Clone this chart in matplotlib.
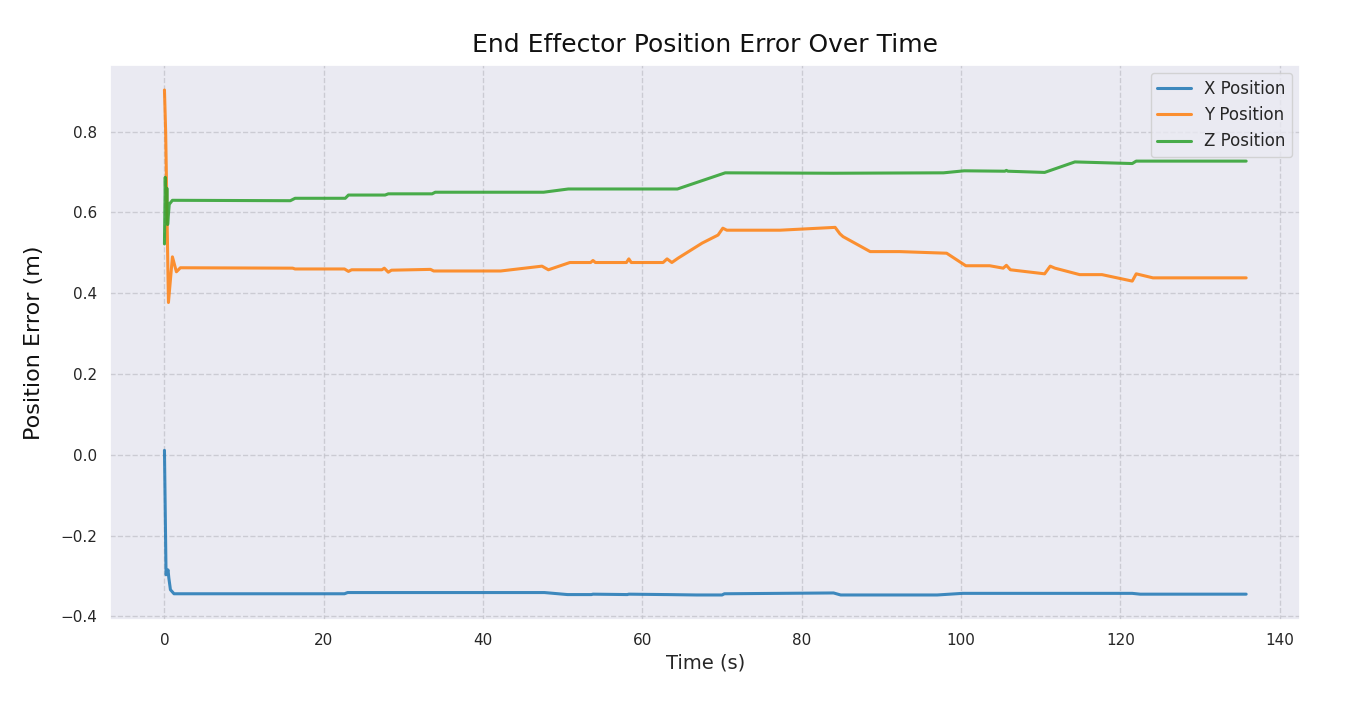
import matplotlib
matplotlib.use('Agg')
import matplotlib.pyplot as plt
import seaborn as sns

# Data
t_x = [0, 0.2, 0.45, 0.55, 0.75, 1.2, 22.6, 23.0, 47.7, 50.6, 53.6, 53.8, 58.1, 58.3,
       62.8, 63.0, 66.8, 70.0, 70.3, 84.0, 84.9, 97.0, 100.2, 121.5, 122.5, 135.8]
x_err = [0.011, -0.297, -0.285, -0.305, -0.334, -0.344, -0.344, -0.341, -0.341, -0.346,
         -0.346, -0.345, -0.346, -0.345, -0.346, -0.346, -0.347, -0.347, -0.344, -0.342,
         -0.347, -0.347, -0.343, -0.343, -0.345, -0.345]

t_y = [0, 0.15, 0.5, 1.0, 1.5, 2.0, 16.1, 16.4, 22.6, 23.1, 23.5, 27.3, 27.6, 28.1, 28.5,
       33.4, 33.8, 42.2, 47.4, 48.2, 50.9, 53.5, 53.8, 54.1, 58.0, 58.3, 58.6, 62.6, 63.1,
       63.7, 64.5, 67.5, 69.5, 70.1, 70.6, 77.3, 84.2, 84.8, 85.2, 88.6, 92.3, 98.2, 100.6,
       103.6, 105.3, 105.7, 106.2, 110.5, 111.2, 111.8, 114.9, 117.7, 121.5, 122.0, 124.1,
       135.8]
y_err = [0.903, 0.80, 0.377, 0.490, 0.453, 0.463, 0.462, 0.460, 0.460, 0.454, 0.458, 0.458,
         0.462, 0.452, 0.457, 0.459, 0.455, 0.455, 0.467, 0.458, 0.476, 0.476, 0.481, 0.476,
         0.476, 0.485, 0.476, 0.476, 0.485, 0.476, 0.487, 0.524, 0.544, 0.561, 0.556, 0.556,
         0.563, 0.547, 0.540, 0.503, 0.503, 0.499, 0.468, 0.468, 0.462, 0.469, 0.458, 0.448,
         0.467, 0.462, 0.446, 0.446, 0.430, 0.448, 0.438, 0.438]

t_z = [0, 0.1, 0.2, 0.3, 0.4, 0.6, 1.0, 15.8, 16.4, 22.7, 23.1, 27.7, 28.1, 33.6, 34.0,
       47.6, 50.7, 64.4, 70.4, 84.0, 97.8, 100.4, 105.5, 105.7, 105.9, 110.5, 114.3, 121.5,
       122.0, 135.8]
z_err = [0.522, 0.687, 0.58, 0.66, 0.57, 0.62, 0.630, 0.629, 0.635, 0.635, 0.643, 0.643,
         0.646, 0.646, 0.650, 0.650, 0.658, 0.658, 0.698, 0.697, 0.698, 0.703, 0.702, 0.704,
         0.702, 0.699, 0.725, 0.721, 0.727, 0.727]

sns.set_theme(style='darkgrid')
plt.rcParams['font.family'] = ['DejaVu Sans']

fig, ax = plt.subplots(figsize=(13.46, 7.04), dpi=100)
fig.subplots_adjust(left=0.082, right=0.966, top=0.908, bottom=0.119)

ax.plot(t_x, x_err, color='#1f77b4', lw=2.2, alpha=0.85, label='X Position')
ax.plot(t_y, y_err, color='#ff7f0e', lw=2.2, alpha=0.85, label='Y Position')
ax.plot(t_z, z_err, color='#2ca02c', lw=2.2, alpha=0.85, label='Z Position')

ax.grid(True, linestyle='--', color='#c4c4cc', linewidth=1.0, alpha=0.8)
ax.set_title('End Effector Position Error Over Time', fontsize=18, color='#111111', pad=9)
ax.set_xlabel('Time (s)', fontsize=14)
ax.set_ylabel('Position Error (m)', fontsize=16, color='#111111', labelpad=12)
ax.tick_params(labelsize=11)
ax.legend(loc='upper right', fontsize=12)

fig.savefig('out.png', dpi=100)
